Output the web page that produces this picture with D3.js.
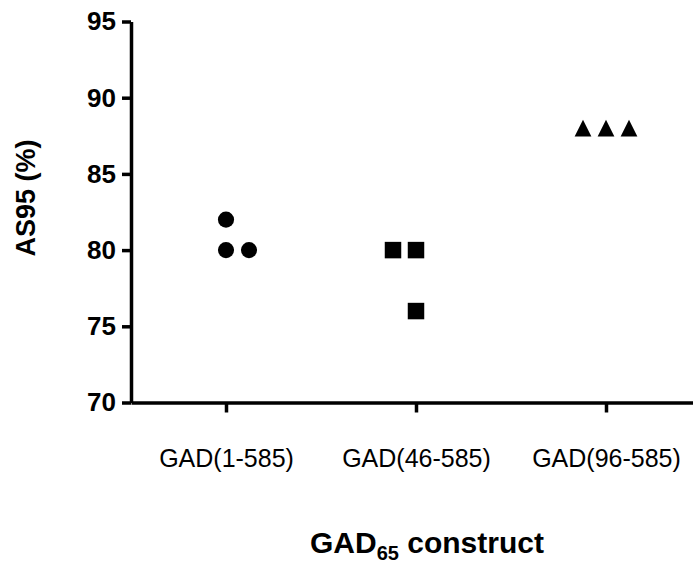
<!DOCTYPE html>
<html>
<head>
<meta charset="utf-8">
<script src="https://cdn.jsdelivr.net/npm/d3@7"></script>
<style>
  body { margin: 0; background: #fff; }
  svg { display: block; font-family: "Liberation Sans", Arial, sans-serif; }
</style>
</head>
<body>
<svg id="chart" width="693" height="563"></svg>
<script>
// data
const constructs = ["GAD(1-585)", "GAD(46-585)", "GAD(96-585)"];
const full = [82, 80, 80];      // circles
const mid = [80, 80, 76];       // squares
const short = [88, 88, 88];     // triangles
const yTicks = [70, 75, 80, 85, 90, 95];

// horizontal slot of each point inside its column (-1 left, 0 centre, 1 right)
const slots = [[0, 0, 1], [-1, 0, 0], [-1, 0, 1]];

// triangle as tall as it is wide, centred on its box (prism draws it that way)
const tallTriangle = {
  draw(ctx, size) {
    const h = Math.sqrt(size * 2) / 2;
    ctx.moveTo(0, -h);
    ctx.lineTo(h, h);
    ctx.lineTo(-h, h);
    ctx.closePath();
  }
};

const groups = [full, mid, short];
const shapes = [d3.symbolCircle, d3.symbolSquare, tallTriangle];
const sizes = [205, 272, 140];

const svg = d3.select("#chart");

const plotLeft = 131, plotBottom = 402.5, plotTop = 21.5;

const x = d3.scalePoint()
  .domain(constructs)
  .range([plotLeft, plotLeft + 570])
  .padding(0.5);

const y = d3.scaleLinear()
  .domain([70, 95])
  .range([plotBottom, plotTop]);

// y axis
const yAxis = svg.append("g")
  .attr("transform", `translate(${plotLeft},0)`)
  .call(d3.axisLeft(y).tickValues(yTicks).tickSize(9).tickPadding(6).tickSizeOuter(0));

// x axis
const xAxis = svg.append("g")
  .attr("transform", `translate(0,${plotBottom})`)
  .call(d3.axisBottom(x).tickSize(10).tickPadding(37).tickSizeOuter(0));

svg.selectAll(".domain, .tick line")
  .attr("stroke", "#000")
  .attr("stroke-width", 3.5);

yAxis.selectAll("text")
  .attr("font-size", 26)
  .attr("font-weight", "bold")
  .attr("fill", "#000");

xAxis.selectAll("text")
  .attr("font-size", 25)
  .attr("fill", "#000");

// the points
groups.forEach((vals, g) => {
  svg.append("g")
    .selectAll("path")
    .data(vals)
    .join("path")
    .attr("d", d3.symbol().type(shapes[g]).size(sizes[g]))
    .attr("transform", (d, i) => `translate(${x(constructs[g]) + slots[g][i] * 23},${y(d)})`)
    .attr("fill", "#000");
});

// axis titles
svg.append("text")
  .attr("transform", "translate(34.5,198) rotate(-90)")
  .attr("text-anchor", "middle")
  .attr("font-size", 27)
  .attr("font-weight", "bold")
  .text("AS95 (%)");

const title = svg.append("text")
  .attr("x", 427)
  .attr("y", 553)
  .attr("text-anchor", "middle")
  .attr("font-size", 30)
  .attr("font-weight", "bold");
title.append("tspan").text("GAD");
title.append("tspan").attr("font-size", 20).attr("dy", 7).text("65");
title.append("tspan").attr("dy", -7).text(" construct");
</script>
</body>
</html>
